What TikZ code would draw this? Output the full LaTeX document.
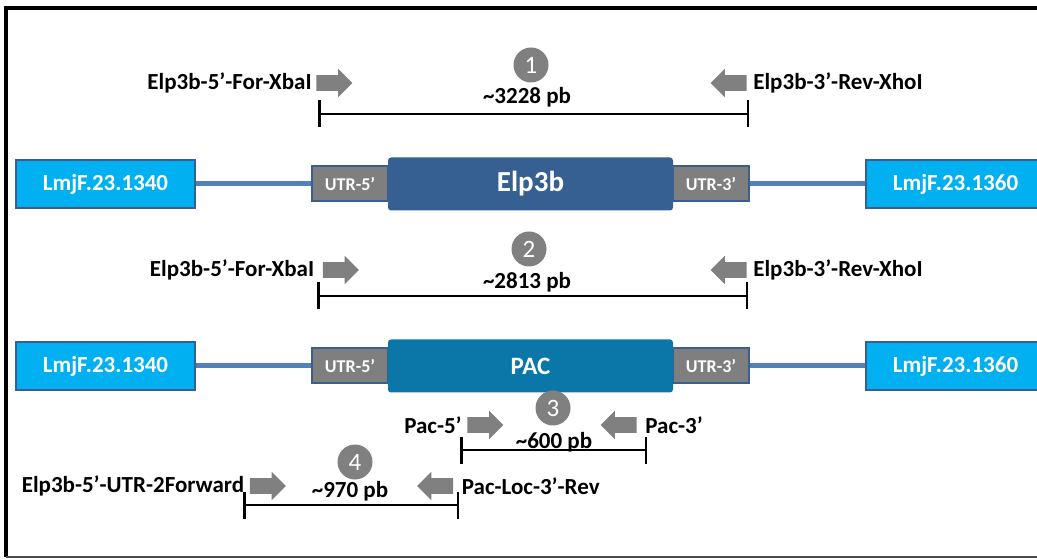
\documentclass[tikz,border=0pt]{standalone}
\usepackage{fontspec}
\setmainfont{Carlito}
\usepackage{xcolor}
\usetikzlibrary{arrows.meta}
\usetikzlibrary{shapes.arrows}
\usetikzlibrary{positioning}

\definecolor{flankblau}{HTML}{00B0F0}
\definecolor{randblau}{HTML}{3A5F8E}
\definecolor{linkblau}{HTML}{4F81BD}
\definecolor{utrgrau}{HTML}{7F7F7F}
\definecolor{elpblau}{HTML}{366092}
\definecolor{pacblau}{HTML}{0B77A8}
\definecolor{primergrau}{HTML}{808080}

\tikzset{
  flank/.style={draw=randblau, line width=1pt, fill=flankblau, minimum width=89.5pt,
    minimum height=24pt, inner sep=0pt, text=white, font=\bfseries\fontsize{11.5}{13}\selectfont},
  utr/.style={draw=randblau, line width=1pt, fill=utrgrau, minimum width=38pt,
    minimum height=17.5pt, inner sep=0pt, text=white, font=\bfseries\fontsize{9}{10}\selectfont},
  cds/.style={rounded corners=1.5pt, minimum width=142.5pt, minimum height=26.5pt,
    inner sep=0pt, text=white, font=\bfseries\fontsize{14.5}{16}\selectfont},
  link/.style={draw=linkblau, line width=2.5pt},
  primer/.style={single arrow, fill=primergrau, inner xsep=0pt, inner ysep=3.75pt,
    minimum height=18pt, minimum width=14pt, single arrow head extend=3.25pt},
  fwd/.style={primer},
  rev/.style={primer, shape border rotate=180},
  plabel/.style={inner sep=0pt, font=\bfseries\fontsize{11.5}{13}\selectfont},
  nummer/.style={circle, fill=primergrau, minimum size=17.5pt, inner sep=0pt,
    text=white, font=\fontsize{12.5}{14}\selectfont},
  groesse/.style={anchor=base, inner sep=0pt, font=\bfseries\fontsize{11.5}{13}\selectfont},
  spanne/.style={{Bar[width=13.5pt]}-{Bar[width=13.5pt]}, line width=1.25pt},
}

\begin{document}
\begin{tikzpicture}[x=0.5pt, y=-0.5pt]
\useasboundingbox (0,0) rectangle (1037,560);
\clip (0,0) rectangle (1037,560);
% Rahmen
\draw[line width=2pt] (1045,8) -- (6,8) -- (6,557);
\draw[line width=1pt, black!70] (6,557) -- (1045,557);

% Locus mit Elp3b
\node[flank] (flankL1) at (105.5,184) {LmjF.23.1340};
\node[utr] (utrA5) at (350,184) {UTR-5’};
\node[utr] (utrA3) at (711,184) {UTR-3’};
\node[cds, fill=elpblau] (elp) at (530.5,184) {Elp3b};
\node[flank] (flankR1) at (955.5,184) {LmjF.23.1360};
\draw[link] (flankL1) -- (utrA5);
\draw[link] (utrA3) -- (flankR1);

% Locus mit PAC
\node[flank] (flankL2) at (105.5,366) {LmjF.23.1340};
\node[utr] (utrB5) at (350,366) {UTR-5’};
\node[utr] (utrB3) at (711,366) {UTR-3’};
\node[cds, fill=pacblau, font=\bfseries\fontsize{12.5}{14}\selectfont] (pac) at (530.5,366) {PAC};
\node[flank] (flankR2) at (955.5,366) {LmjF.23.1360};
\draw[link] (flankL2) -- (utrB5);
\draw[link] (utrB3) -- (flankR2);

% PCR 1
\node[fwd] (fwd1) at (330.5,83) {};
\node[rev] (rev1) at (732.5,83) {};
\node[plabel, left=2pt of fwd1] (lfwd1) {Elp3b-5’-For-XbaI};
\node[plabel, right=3pt of rev1] (lrev1) {Elp3b-3’-Rev-XhoI};
\node[nummer] (n1) at (531,65) {1};
\node[groesse] (s1) at (527,104) {\textasciitilde3228 pb};
\coordinate (b1l) at (318,114);
\coordinate (b1r) at (749,114);
\draw[spanne] (b1l) -- (b1r);

% PCR 2
\node[fwd] (fwd2) at (337,270) {};
\node[rev] (rev2) at (732.5,270) {};
\node[plabel, left=4pt of fwd2] (lfwd2) {Elp3b-5’-For-XbaI};
\node[plabel, right=3pt of rev2] (lrev2) {Elp3b-3’-Rev-XhoI};
\node[nummer] (n2) at (529,249) {2};
\node[groesse] (s2) at (527,289) {\textasciitilde2813 pb};
\coordinate (b2l) at (317,296);
\coordinate (b2r) at (748,296);
\draw[spanne] (b2l) -- (b2r);

% PCR 3
\node[fwd] (fwd3) at (481.5,425) {};
\node[rev] (rev3) at (622.5,425) {};
\node[plabel, left=2.5pt of fwd3] (lfwd3) {Pac-5’};
\node[plabel, right=4pt of rev3] (lrev3) {Pac-3’};
\node[nummer] (n3) at (553,408) {3};
\node[groesse] (s3) at (554,448) {\textasciitilde600 pb};
\coordinate (b3l) at (460,450);
\coordinate (b3r) at (647,450);
\draw[spanne] (b3l) -- (b3r);

% PCR 4
\node[fwd] (fwd4) at (264,486) {};
\node[rev] (rev4) at (439,486) {};
\node[plabel, left=2.5pt of fwd4] (lfwd4) {Elp3b-5’-UTR-2Forward};
\node[plabel, right=4pt of rev4] (lrev4) {Pac-Loc-3’-Rev};
\node[nummer] (n4) at (355,462) {4};
\node[groesse] (s4) at (350,497) {\textasciitilde970 pb};
\coordinate (b4l) at (243,505);
\coordinate (b4r) at (459,505);
\draw[spanne] (b4l) -- (b4r);
\end{tikzpicture}
\end{document}
